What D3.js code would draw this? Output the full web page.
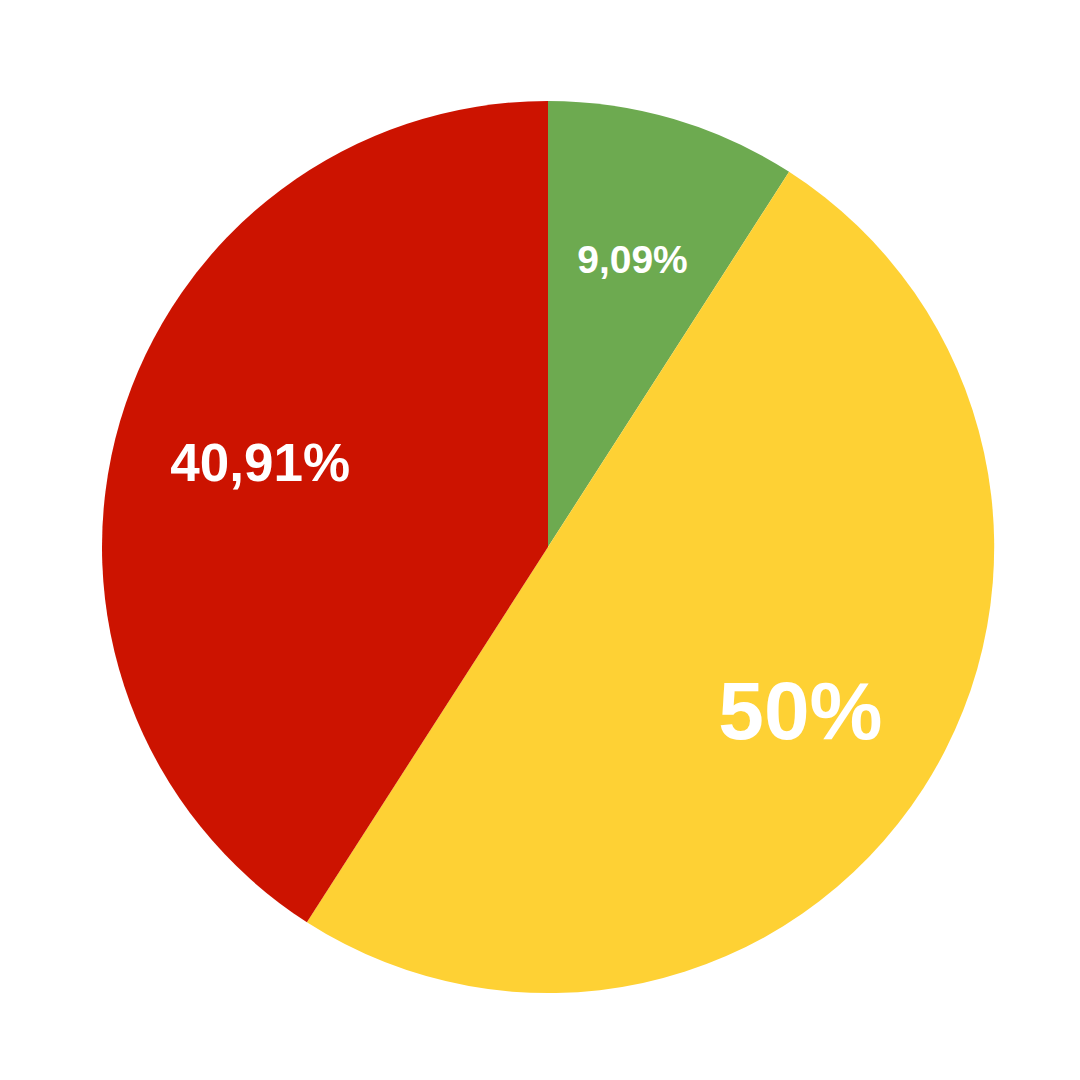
<!DOCTYPE html>
<html>
<head>
<meta charset="utf-8">
<script src="https://cdn.jsdelivr.net/npm/d3@7"></script>
<style>
html,body{margin:0;padding:0;background:#fff;}
svg{display:block;}
</style>
</head>
<body>
<svg id="chart" width="1080" height="1080"></svg>
<script>
const categories = ["A", "B", "C"];
const values = [9.09, 50, 40.91];
const labels = ["9,09%", "50%", "40,91%"];
const colors = ["#6DAA50", "#FED134", "#CC1300"];
const fontSizes = [39, 82, 53];

const W = 1080, H = 1080, cx = 548, cy = 547, R = 446, labelR = 300;
const svg = d3.select("#chart");
const g = svg.append("g").attr("transform", `translate(${cx},${cy})`);

const pie = d3.pie().sort(null).value(d => d.v);
const data = categories.map((c, i) => ({c, v: values[i], label: labels[i], color: colors[i], fs: fontSizes[i]}));
const arcs = pie(data);
const arc = d3.arc().innerRadius(0).outerRadius(R);
const labelArc = d3.arc().innerRadius(labelR).outerRadius(labelR);

g.selectAll("path").data(arcs).join("path")
  .attr("d", arc)
  .attr("fill", d => d.data.color);

g.selectAll("text").data(arcs).join("text")
  .attr("x", d => labelArc.centroid(d)[0])
  .attr("y", d => labelArc.centroid(d)[1] + d.data.fs * 0.358)
  .attr("text-anchor", "middle")
  .attr("fill", "#fff")
  .attr("font-family", "'Liberation Sans', Arial, Helvetica, sans-serif")
  .attr("font-weight", "bold")
  .attr("font-size", d => d.data.fs)
  .text(d => d.data.label);
</script>
</body>
</html>
